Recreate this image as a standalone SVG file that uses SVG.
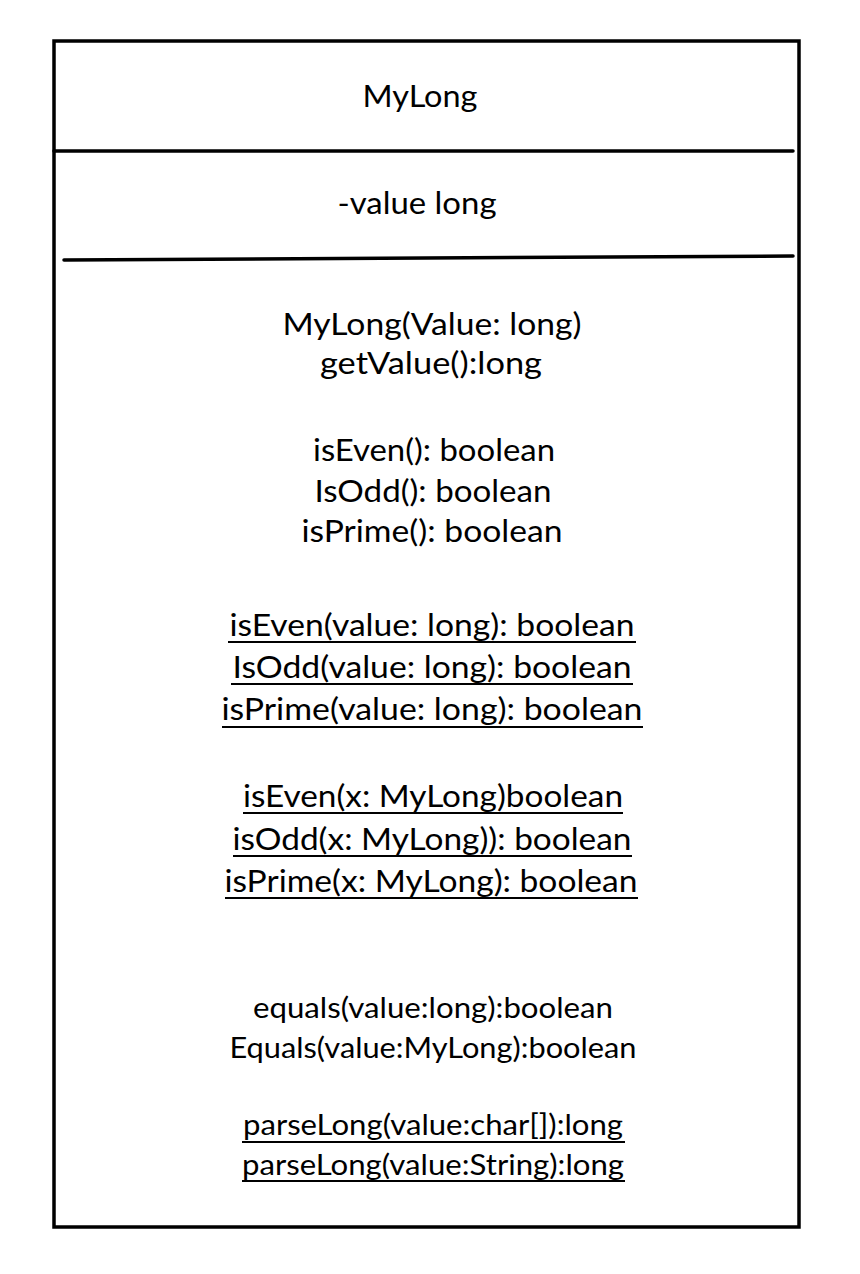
<svg xmlns="http://www.w3.org/2000/svg" width="860" height="1274" viewBox="0 0 860 1274">
<style>
.t{font-family:Lato,"Carlito","Open Sans","Liberation Sans",sans-serif;font-size:31px;fill:#000;text-anchor:middle}
.s{font-size:28px}
.ul{stroke:#000;stroke-width:2.2}
.ln{stroke:#000;stroke-width:3.5;fill:none;stroke-linecap:round}
</style>
<rect width="860" height="1274" fill="#fff"/>
<g id="class-MyLong">
<rect x="54" y="41" width="745" height="1186" fill="#fff" stroke="#000" stroke-width="3.5"/>
<g id="dividers">
<line class="ln" x1="54" y1="151" x2="793" y2="151"/>
<line class="ln" x1="64" y1="260" x2="793" y2="256"/>
</g>
<g id="name">
<text class="t" x="420" y="107" textLength="115" lengthAdjust="spacingAndGlyphs">MyLong</text>
</g>
<g id="attributes">
<text class="t" x="417" y="214" textLength="159" lengthAdjust="spacingAndGlyphs">-value long</text>
</g>
<g id="operations">
<text class="t" x="432" y="335" textLength="299" lengthAdjust="spacingAndGlyphs">MyLong(Value: long)</text>
<text class="t" x="431" y="374" textLength="222" lengthAdjust="spacingAndGlyphs">getValue():long</text>
<text class="t" x="434" y="461" textLength="242" lengthAdjust="spacingAndGlyphs">isEven(): boolean</text>
<text class="t" x="433" y="502" textLength="237" lengthAdjust="spacingAndGlyphs">IsOdd(): boolean</text>
<text class="t" x="432" y="542" textLength="261" lengthAdjust="spacingAndGlyphs">isPrime(): boolean</text>
<text class="t" x="432" y="636" textLength="405" lengthAdjust="spacingAndGlyphs">isEven(value: long): boolean</text>
<text class="t" x="432" y="678" textLength="399" lengthAdjust="spacingAndGlyphs">IsOdd(value: long): boolean</text>
<text class="t" x="432" y="720" textLength="421" lengthAdjust="spacingAndGlyphs">isPrime(value: long): boolean</text>
<text class="t" x="433" y="807" textLength="380" lengthAdjust="spacingAndGlyphs">isEven(x: MyLong)boolean</text>
<text class="t" x="432" y="850" textLength="399" lengthAdjust="spacingAndGlyphs">isOdd(x: MyLong)): boolean</text>
<text class="t" x="431" y="892" textLength="413" lengthAdjust="spacingAndGlyphs">isPrime(x: MyLong): boolean</text>
<text class="t s" x="433" y="1018" textLength="360" lengthAdjust="spacingAndGlyphs">equals(value:long):boolean</text>
<text class="t s" x="433" y="1058" textLength="407" lengthAdjust="spacingAndGlyphs">Equals(value:MyLong):boolean</text>
<text class="t s" x="433" y="1135" textLength="380" lengthAdjust="spacingAndGlyphs">parseLong(value:char[]):long</text>
<text class="t s" x="433" y="1175" textLength="382" lengthAdjust="spacingAndGlyphs">parseLong(value:String):long</text>
<g id="underlines">
<line class="ul" x1="228" y1="642" x2="636" y2="642"/>
<line class="ul" x1="231" y1="684" x2="633" y2="684"/>
<line class="ul" x1="222" y1="727" x2="643" y2="727"/>
<line class="ul" x1="243" y1="813" x2="623" y2="813"/>
<line class="ul" x1="233" y1="856" x2="632" y2="856"/>
<line class="ul" x1="225" y1="898" x2="638" y2="898"/>
<line class="ul" x1="242" y1="1142" x2="625" y2="1142"/>
<line class="ul" x1="242" y1="1181" x2="625" y2="1181"/>
</g>
</g>
</g>
</svg>
